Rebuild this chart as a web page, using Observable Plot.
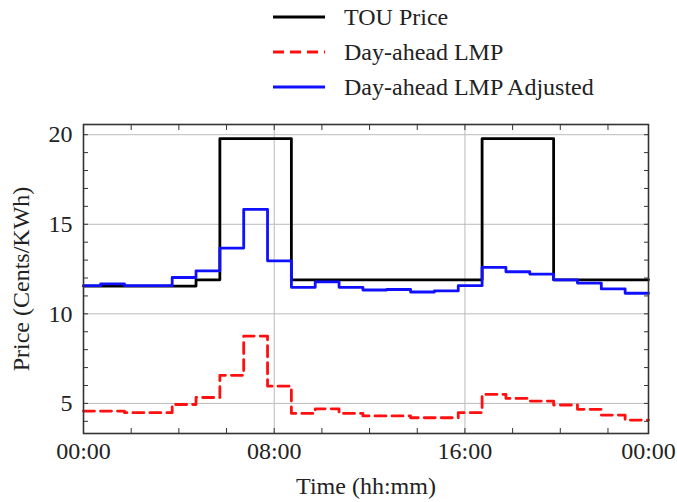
<!DOCTYPE html>
<html>
<head>
<meta charset="utf-8">
<script src="https://cdn.jsdelivr.net/npm/d3@7"></script>
<script src="https://cdn.jsdelivr.net/npm/@observablehq/plot@0.6"></script>
<style>
  html, body { margin: 0; padding: 0; background: #fff; }
  #wrap { position: relative; width: 677px; height: 502px; }
  #legend { position: absolute; left: 0; top: 0; width: 677px; height: 110px; }
  .row { position: absolute; left: 272px; height: 30px; display: flex; align-items: center; font-size: 24px; color: #222; font-family: 'Liberation Serif'; }
  .row svg { margin-right: 18px; }
</style>
</head>
<body>
<div id="wrap">
  <div id="chart"></div>
  <div id="legend"></div>
</div>
<script>
// Step boundaries (hours) and segment values (cents/kWh)
const stepTimes = [0, 0.72, 1.72, 2.72, 3.72, 4.72, 5.72, 6.72, 7.72, 8.72, 9.72, 10.72, 11.72,
                   12.72, 13.72, 14.72, 15.72, 16.72, 17.72, 18.72, 19.72, 20.72, 21.72, 22.72, 23.7];
const touPrice = [11.55, 11.55, 11.55, 11.55, 11.55, 11.9, 19.78, 19.78, 19.78, 11.9, 11.9, 11.9,
                  11.9, 11.9, 11.9, 11.9, 11.9, 19.78, 19.78, 19.78, 11.9, 11.9, 11.9, 11.9];
const lmp = [4.57, 4.57, 4.48, 4.48, 4.94, 5.33, 6.57, 8.76, 5.96, 4.44, 4.7, 4.44,
             4.3, 4.3, 4.2, 4.2, 4.48, 5.5, 5.28, 5.13, 4.91, 4.67, 4.35, 4.07];
const lmpAdjusted = [11.57, 11.67, 11.57, 11.57, 12.03, 12.4, 13.67, 15.83, 12.96, 11.48, 11.78, 11.48,
                     11.33, 11.36, 11.22, 11.28, 11.57, 12.59, 12.35, 12.22, 11.9, 11.72, 11.39, 11.15];
const seriesNames = ["TOU Price", "Day-ahead LMP", "Day-ahead LMP Adjusted"];
const xTicks = [0, 8, 16, 23.7];
const xTickLabels = ["00:00", "08:00", "16:00", "00:00"];
const xMinorTicks = [0, 2, 4, 6, 8, 10, 12, 14, 16, 18, 20, 22];
const yTicks = [5, 10, 15, 20];
const yMinorTicks = [4, 5, 6, 7, 8, 9, 10, 11, 12, 13, 14, 15, 16, 17, 18, 19, 20];

function rows(values) {
  return stepTimes.map((t, i) => ({t, v: values[Math.min(i, values.length - 1)]}));
}

const styles = [
  {stroke: "#000000", strokeWidth: 2.8},
  {stroke: "#ff1010", strokeWidth: 2.8, strokeDasharray: "11,6"},
  {stroke: "#1010ff", strokeWidth: 2.8}
];

const fmt = (d) => xTickLabels[xTicks.indexOf(d)];

const plot = Plot.plot({
  width: 677,
  height: 502,
  marginLeft: 83,
  marginRight: 29,
  marginTop: 124,
  marginBottom: 69,
  style: {fontFamily: "Liberation Serif", fontSize: "24px", color: "#222", background: "#fff"},
  x: {domain: [0, 23.7]},
  y: {domain: [3.32, 20.57]},
  marks: [
    Plot.gridX([8, 16], {stroke: "#bbb", strokeOpacity: 1, strokeWidth: 1}),
    Plot.gridY(yTicks, {stroke: "#bbb", strokeOpacity: 1, strokeWidth: 1}),
    Plot.line(rows(touPrice), {x: "t", y: "v", curve: "step-after", ...styles[0]}),
    Plot.line(rows(lmp), {x: "t", y: "v", curve: "step-after", ...styles[1]}),
    Plot.line(rows(lmpAdjusted), {x: "t", y: "v", curve: "step-after", ...styles[2]}),
    // inward minor ticks on all four sides
    Plot.axisX(xMinorTicks, {anchor: "bottom", tickSize: -5, text: null, label: null, stroke: "#333"}),
    Plot.axisX(xMinorTicks, {anchor: "top", tickSize: -5, text: null, label: null, stroke: "#333"}),
    Plot.axisY(yMinorTicks, {anchor: "left", tickSize: -5, text: null, label: null, stroke: "#333"}),
    Plot.axisY(yMinorTicks, {anchor: "right", tickSize: -5, text: null, label: null, stroke: "#333"}),
    // labels
    Plot.axisX(xTicks, {anchor: "bottom", tickSize: 0, tickPadding: 8, tickFormat: fmt,
      fontFamily: "Liberation Serif", fontSize: 24,
      label: "Time (hh:mm)", labelAnchor: "center", labelArrow: "none", labelOffset: 60}),
    Plot.axisY(yTicks, {anchor: "left", tickSize: 0, tickPadding: 11,
      fontFamily: "Liberation Serif", fontSize: 24,
      label: "Price (Cents/KWh)", labelAnchor: "center", labelArrow: "none", labelOffset: 72}),
    Plot.frame({stroke: "#333", strokeWidth: 1.6})
  ]
});
document.getElementById("chart").appendChild(plot);

// legend
const legend = document.getElementById("legend");
const rowTops = [2, 37, 72];
seriesNames.forEach((name, i) => {
  const row = document.createElement("div");
  row.className = "row";
  row.style.top = rowTops[i] + "px";
  const s = styles[i];
  row.innerHTML = `<svg width="54" height="10"><line x1="1" x2="53" y1="5" y2="5" stroke="${s.stroke}" stroke-width="3" ${s.strokeDasharray ? `stroke-dasharray="${s.strokeDasharray}"` : ""}/></svg><span>${name}</span>`;
  legend.appendChild(row);
});
</script>
</body>
</html>
